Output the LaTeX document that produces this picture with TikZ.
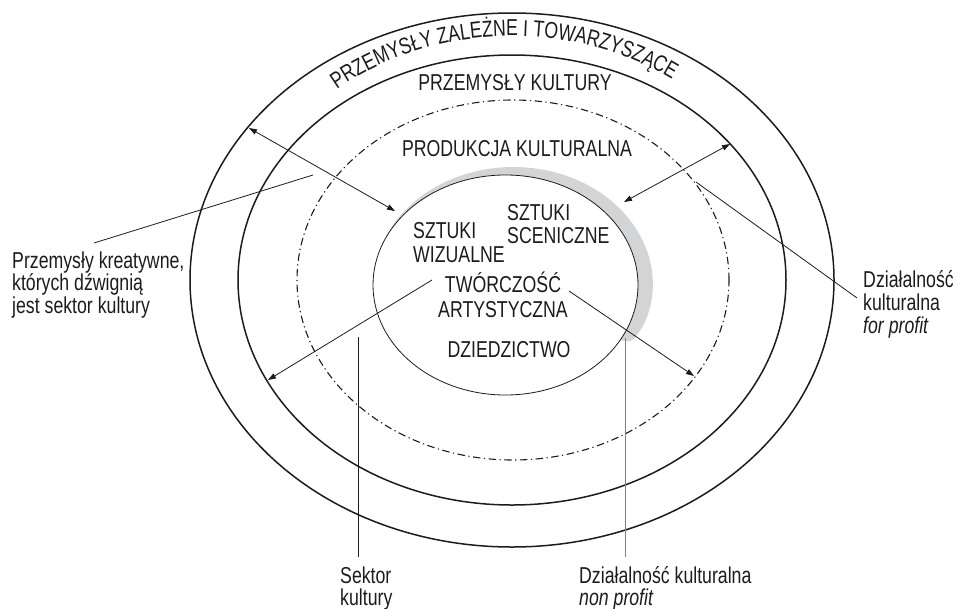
\documentclass[tikz,border=0pt]{standalone}
\usepackage{fontspec}
\setmainfont{Liberation Sans}[FakeStretch=0.77]
\usetikzlibrary{arrows.meta,decorations.text}
\definecolor{ink}{HTML}{1C1C1C}
\definecolor{halo}{HTML}{D3D4D6}
\definecolor{greyline}{HTML}{7E7E7E}
\begin{document}
\begin{tikzpicture}[x=1pt,y=1pt,
  ring/.style={line width=1.5pt, draw=ink},
  dashring/.style={line width=1.1pt, draw=ink, dash pattern={on 7.5pt off 3.5pt on 1.2pt off 3.5pt}},
  core/.style={line width=0.8pt, draw=ink, fill=white},
  link/.style={line width=0.8pt, draw=ink},
  tipend/.style={-{Triangle[length=8pt,width=5.5pt]}},
  tipboth/.style={{Triangle[length=8pt,width=5.5pt]}-{Triangle[length=8pt,width=5.5pt]}},
  lbl/.style={font=\fontsize{23}{25}\selectfont, inner sep=0pt, anchor=base west, text=ink},
  ttl/.style={font=\fontsize{23}{25}\selectfont, inner sep=0pt, anchor=base, text=ink},
  declare function={gu(\a)=(160-\a)/190;
                    gt(\a)=29*gu(\a)*gu(\a)^0.2*sqrt(sqrt(max(1-gu(\a),0)));}
]
\useasboundingbox (0,0) rectangle (957,-608);

% centres of the rings
\coordinate (c) at (512,-280);
\coordinate (cd) at (513,-280);
\coordinate (inc) at (505.5,-285);

% rings
\draw[ring] (c) ellipse [x radius=322, y radius=267];
\draw[ring] (c) ellipse [x radius=274, y radius=225];
\draw[dashring] (cd) ellipse [x radius=216, y radius=180];

% grey crescent behind the core
\fill[halo] plot[domain=-30:160, samples=120]
  ({505.5+(132.5+gt(\x))*cos(\x)}, {-285+(110+gt(\x))*sin(\x)}) -- cycle;
\draw[core] (inc) ellipse [x radius=132.5, y radius=110];

% curved title between the two outer rings
\path[decorate, decoration={text along path, text align=center,
  text={|\fontsize{23}{25}\selectfont\color{ink}|PRZEMYSŁY ZALEŻNE I TOWARZYSZĄCE}}]
  (c) ++(151:280 and 244) arc [start angle=151, end angle=33, x radius=280, y radius=244];

% ring titles
\node[ttl] (kult) at (515,-90) {PRZEMYSŁY KULTURY};
\node[ttl] (prod) at (517,-156) {PRODUKCJA KULTURALNA};

% core texts
\node[lbl] (wiz1) at (413,-238) {SZTUKI};
\node[lbl] (wiz2) at (413,-262) {WIZUALNE};
\node[lbl] (sce1) at (507,-220) {SZTUKI};
\node[lbl] (sce2) at (507,-243) {SCENICZNE};
\node[ttl] (tw1) at (503,-292) {TWÓRCZOŚĆ};
\node[ttl] (tw2) at (503,-317) {ARTYSTYCZNA};
\node[ttl] (dzi) at (509,-357) {DZIEDZICTWO};

% side labels
\node[lbl] (cr1) at (12,-268) {Przemysły kreatywne,};
\node[lbl] (cr2) at (12,-290.5) {których dźwignią};
\node[lbl] (cr3) at (12,-313) {jest sektor kultury};
\node[lbl] (fp1) at (863,-287) {Działalność};
\node[lbl] (fp2) at (863,-310) {kulturalna};
\node[lbl] (fp3) at (863,-333) {\itshape for profit};
\node[lbl] (sk1) at (340,-583) {Sektor};
\node[lbl] (sk2) at (340,-605) {kultury};
\node[lbl] (np1) at (579,-583) {Działalność kulturalna};
\node[lbl] (np2) at (579,-605) {\itshape non profit};

% arrow ends
\coordinate (a1) at (249,-128);
\coordinate (a2) at (395,-211);
\coordinate (b1) at (730,-144);
\coordinate (b2) at (624,-202);
\coordinate (e1) at (432,-280);
\coordinate (e2) at (268,-380);
\coordinate (d1) at (569,-291);
\coordinate (d2) at (694,-376);

\draw[link, tipboth] (a1) -- (a2);
\draw[link, tipboth] (b1) -- (b2);
\draw[link, tipend] (e1) -- (e2);
\draw[link, tipend] (d1) -- (d2);

% leader lines
\coordinate (p1) at (94,-243);
\coordinate (p2) at (313,-175);
\coordinate (q1) at (696,-182);
\coordinate (q2) at (857,-298);
\coordinate (s1) at (358,-337);
\coordinate (s2) at (358,-557);
\coordinate (n1) at (625,-338);
\coordinate (n2) at (625,-557);

\draw[link] (p1) -- (p2);
\draw[link] (q1) -- (q2);
\draw[link] (s1) -- (s2);
\draw[line width=1pt, draw=greyline] (n1) -- (n2);
\end{tikzpicture}
\end{document}
